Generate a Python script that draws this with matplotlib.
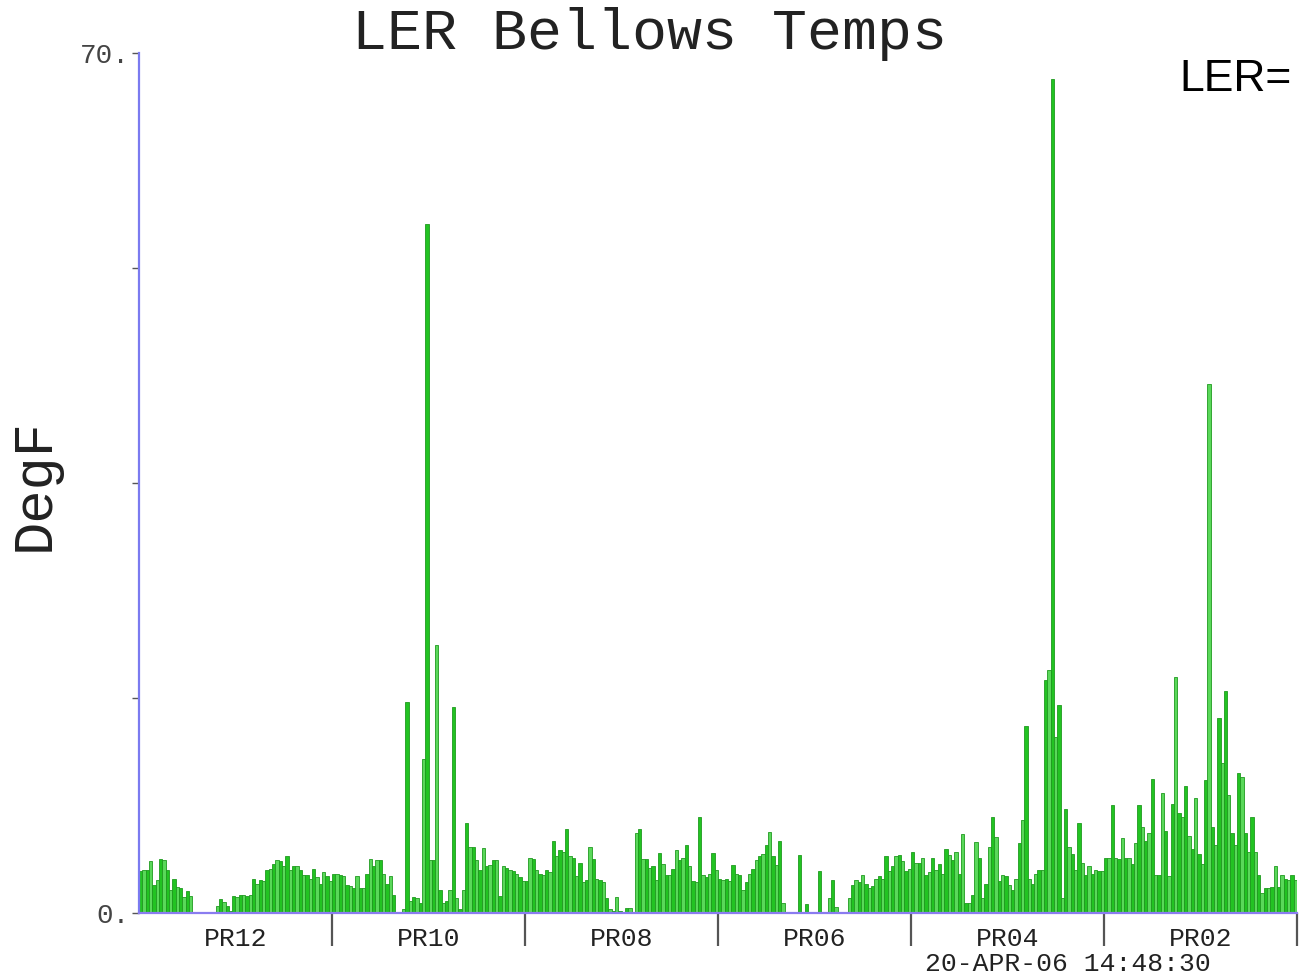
import numpy as np
import matplotlib.pyplot as plt
from matplotlib.ticker import FixedLocator

# bellows temperatures (DegF), one list per sector, 58 readings each
pr12 = [3.4, 3.5, 3.5, 4.2, 2.3, 2.7, 4.4, 4.3, 3.5, 1.9, 2.8, 2.1, 2.0, 1.3, 1.8, 1.4,
        0, 0, 0, 0, 0, 0, 0, 0.6, 1.1, 0.9, 0.6, 0.2, 1.4, 1.3, 1.5, 1.5, 1.4, 1.5,
        2.8, 2.4, 2.7, 2.6, 3.5, 3.6, 4.0, 4.3, 4.2, 3.8, 4.6, 3.5, 3.8, 3.8, 3.5, 3.1,
        3.1, 2.8, 3.6, 2.9, 2.4, 3.3, 3.0, 2.6]
pr10 = [3.2, 3.2, 3.1, 3.0, 2.3, 2.2, 2.0, 3.0, 2.0, 2.0, 3.2, 4.4, 3.8, 4.3, 4.3, 3.2,
        2.4, 3.0, 1.5, 0, 0, 0.3, 17.2, 1.0, 1.3, 1.2, 0.8, 12.5, 56.1, 4.3, 4.3, 21.8,
        1.9, 0.8, 1.0, 1.9, 16.8, 1.2, 0.3, 1.9, 7.3, 5.4, 5.4, 4.3, 3.5, 5.3, 3.8, 3.9,
        4.3, 4.3, 1.4, 3.8, 3.7, 3.5, 3.4, 3.2, 2.9, 2.6]
pr08 = [2.6, 4.5, 4.4, 3.5, 3.2, 3.1, 3.5, 3.3, 5.9, 4.6, 5.1, 5.0, 6.8, 4.6, 4.5, 3.0,
        4.1, 2.5, 2.7, 5.4, 4.4, 2.8, 2.7, 2.5, 1.2, 0.3, 0.2, 1.3, 0.2, 0.0, 0.4, 0.4,
        0.0, 6.5, 6.8, 4.4, 4.4, 3.7, 3.8, 2.7, 4.9, 4.0, 3.1, 3.1, 3.6, 5.1, 4.3, 4.5,
        5.5, 3.8, 2.6, 2.5, 7.8, 3.1, 2.9, 3.2, 4.9, 3.5]
pr06 = [2.8, 2.7, 2.8, 2.6, 3.9, 3.2, 3.1, 1.9, 2.5, 3.2, 3.6, 4.3, 4.6, 4.8, 5.5, 6.6,
        4.6, 3.9, 5.9, 0.8, 0, 0, 0, 0, 4.7, 0, 0.7, 0.1, 0, 0, 3.4, 0, 0, 1.2, 2.7, 0.5,
        0.1, 0, 0, 1.2, 2.3, 2.7, 2.5, 3.1, 2.4, 2.0, 2.2, 2.8, 3.0, 2.8, 4.6, 3.4, 3.8,
        4.6, 4.7, 4.2, 3.4, 3.6]
pr04 = [5.0, 4.1, 4.1, 4.5, 3.1, 3.3, 4.5, 3.5, 4.0, 3.2, 5.2, 4.7, 4.3, 5.0, 3.2, 6.4,
        0.8, 0.8, 1.5, 5.8, 4.5, 1.2, 2.4, 5.4, 7.8, 6.2, 2.6, 3.1, 3.0, 2.3, 1.9, 2.8,
        5.7, 7.6, 15.2, 2.8, 2.4, 3.2, 3.5, 3.5, 19.0, 19.8, 67.9, 14.3, 16.9, 1.2, 8.5,
        5.4, 4.8, 3.5, 7.3, 4.1, 3.1, 3.8, 3.2, 3.5, 3.4, 3.4]
pr02 = [4.5, 4.5, 8.8, 4.5, 4.4, 6.1, 4.5, 4.5, 4.0, 5.7, 8.8, 7.0, 5.9, 6.5, 10.9, 3.1,
        3.1, 9.8, 6.7, 3.0, 8.9, 19.2, 8.1, 7.8, 10.3, 6.3, 5.2, 9.4, 4.8, 4.0, 10.8, 43.1,
        7.0, 5.5, 15.9, 12.2, 18.1, 9.6, 6.5, 5.5, 11.4, 11.1, 6.5, 5.0, 7.8, 5.0, 3.1,
        1.6, 2.0, 2.0, 2.1, 3.8, 2.1, 3.1, 2.8, 2.7, 3.1, 2.7]

sectors = ["PR12", "PR10", "PR08", "PR06", "PR04", "PR02"]
series = [pr12, pr10, pr08, pr06, pr04, pr02]
y_max = 70.0
stamp = "20-APR-06 14:48:30"

MONO = ["Liberation Mono", "DejaVu Sans Mono"]

values = np.concatenate([np.array(s, dtype=float) for s in series])
n_per = len(pr12)
n = len(values)

fig = plt.figure(figsize=(12.99, 9.75), dpi=100)
ax = fig.add_axes([0.107, 0.0636, 0.8915, 0.882])

x = np.arange(n)
colors = ["#22c322" if i % 2 == 0 else "#5ad85a" for i in range(n)]
ax.bar(x, values, width=1.0, align="edge", color=colors,
       edgecolor="#1f9a1f", linewidth=0.6)

ax.set_xlim(0, n)
ax.set_ylim(0, y_max)

for s in ("top", "right"):
    ax.spines[s].set_visible(False)
ax.spines["left"].set_color("#7b7bf0")
ax.spines["left"].set_linewidth(1.6)
ax.spines["bottom"].set_color("#8a7cf0")
ax.spines["bottom"].set_linewidth(1.6)

# y ticks: only ends labelled, quarter marks unlabelled
ax.set_yticks([0, y_max])
ax.set_yticklabels(["0.", "70."], family=MONO, fontsize=20, color="#444444")
ax.yaxis.set_minor_locator(FixedLocator([17.5, 35, 52.5]))
ax.tick_params(axis="y", which="both", direction="out", length=5, width=1,
               color="#555555", pad=2)

# sector dividers as long x ticks, labels centred in each sector
bounds = np.arange(1, len(sectors) + 1) * n_per
ax.set_xticks(bounds)
ax.set_xticklabels([])
ax.tick_params(axis="x", which="major", direction="out", length=24, width=1.6, color="#555555")
for i, name in enumerate(sectors):
    ax.text((i + 0.5) * n_per, -0.030, name, transform=ax.get_xaxis_transform(),
            ha="center", va="center", family=MONO, fontsize=19, color="#222222")

fig.text(0.822, 0.011, stamp, ha="center", va="center", family=MONO, fontsize=19, color="#222222")

fig.text(0.5, 0.965, "LER Bellows Temps", ha="center", va="center",
         family=MONO, fontsize=42, color="#222222")
fig.text(0.027, 0.503, "DegF", ha="center", va="center", rotation=90,
         family=MONO, fontsize=40, color="#222222")
fig.text(0.908, 0.918, "LER=", ha="left", va="center",
         family=["Liberation Sans", "DejaVu Sans"], fontsize=32, color="black")

fig.savefig("out.png", dpi=100)
